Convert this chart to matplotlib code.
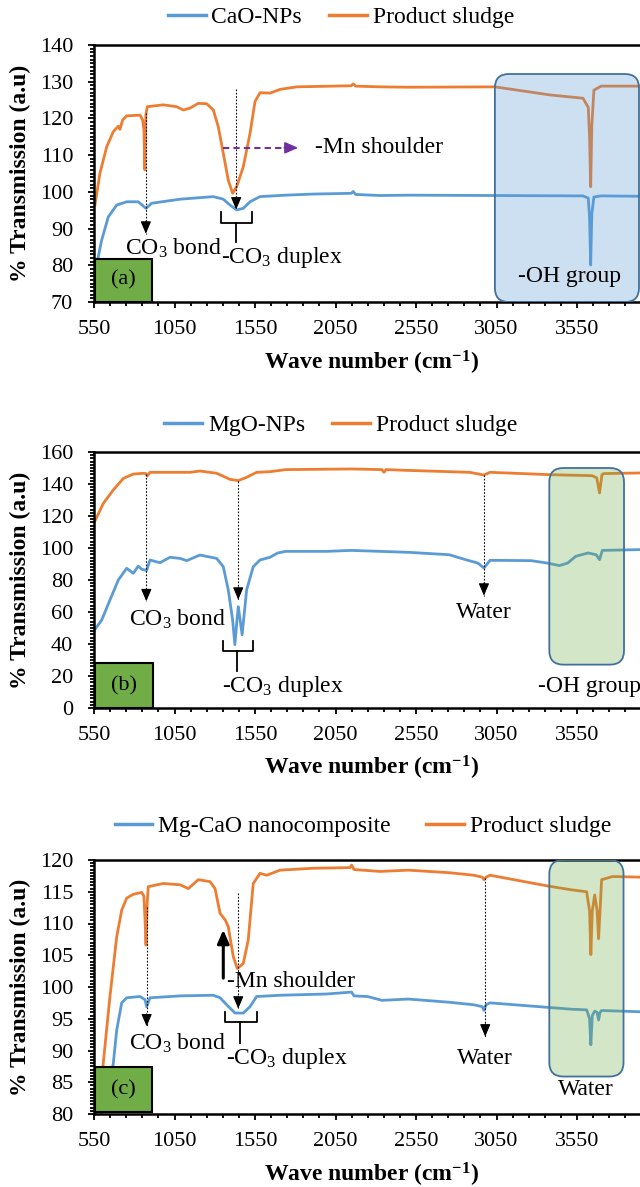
import matplotlib
matplotlib.use("Agg")
import matplotlib.pyplot as plt
from matplotlib.colors import to_rgba
from matplotlib.lines import Line2D
from matplotlib.patches import FancyBboxPatch, Rectangle
from matplotlib.ticker import FixedLocator, MultipleLocator

plt.rcParams["font.family"] = ["Liberation Serif", "DejaVu Serif"]
plt.rcParams["mathtext.fontset"] = "custom"
plt.rcParams["mathtext.rm"] = "Liberation Serif"
plt.rcParams["mathtext.it"] = "Liberation Serif:italic"
plt.rcParams["mathtext.bf"] = "Liberation Serif:bold"

BLUE = "#5B9BD5"
ORANGE = "#ED7D31"

# ---- panel (a): CaO-NPs ----
a_wn_np = [555, 575, 598, 639, 691, 753, 825, 873, 908, 1084, 1291, 1353, 1395, 1436, 1477, 1519, 1581,
           1741, 1912, 2148, 2160, 2175, 2326, 2503, 3040, 3587, 3620, 3628, 3635, 3642, 3655, 3700, 3943, 4000]
a_t_np = [77.5, 82.0, 86.9, 93.2, 96.4, 97.3, 97.3, 95.5, 96.9, 98.0, 98.7, 98.0, 96.4, 95.1, 95.5, 97.3, 98.7,
          99.1, 99.4, 99.6, 100.1, 99.3, 99.0, 99.1, 99.0, 98.9, 98.3, 93.0, 80.1, 94.0, 98.6, 98.9, 98.8, 98.8]
a_wn_sl = [556, 587, 629, 670, 701, 711, 728, 753, 836, 852, 860, 866, 872, 881, 980, 1063, 1105, 1146, 1198,
           1250, 1291, 1322, 1353, 1384, 1411, 1436, 1477, 1519, 1550, 1581, 1643, 1705, 1809, 2148, 2160, 2175,
           2326, 2503, 3040, 3382, 3587, 3620, 3628, 3635, 3642, 3655, 3700, 3943, 4000]
a_t_sl = [96.4, 105.1, 112.3, 116.4, 117.9, 117.0, 119.6, 120.7, 120.9, 119.6, 117.0, 106.0, 121.0, 123.2, 123.7,
          123.2, 122.3, 122.8, 124.1, 124.0, 122.3, 117.7, 110.5, 103.2, 99.6, 101.4, 106.8, 115.9, 124.6, 127.0,
          126.9, 127.9, 128.6, 128.9, 129.4, 128.8, 128.6, 128.5, 128.6, 126.4, 125.5, 123.0, 115.0, 101.4, 118.0,
          127.7, 128.8, 128.8, 128.8]

# ---- panel (b): MgO-NPs ----
b_wn_np = [555, 598, 649, 701, 753, 794, 825, 846, 877, 898, 960, 1022, 1084, 1126, 1208, 1312, 1353, 1384,
           1411, 1425, 1438, 1446, 1455, 1470, 1498, 1539, 1581, 1643, 1691, 1742, 1996, 2148, 2503, 2756, 2858,
           2934, 2972, 3010, 3264, 3365, 3441, 3492, 3542, 3619, 3669, 3690, 3707, 3943, 4000]
b_t_np = [49.0, 55.0, 67.5, 80.0, 87.3, 84.2, 88.7, 86.7, 86.0, 92.5, 90.8, 94.2, 93.5, 92.1, 95.6, 93.5, 88.3,
          73.8, 55.0, 39.6, 55.0, 63.3, 57.0, 45.8, 73.8, 88.3, 92.5, 94.2, 96.9, 97.9, 97.9, 98.5, 97.3, 95.8,
          92.7, 90.6, 87.5, 92.3, 92.1, 90.6, 89.0, 90.6, 94.8, 96.9, 95.8, 92.7, 98.5, 99.0, 99.0]
b_wn_sl = [555, 608, 670, 732, 794, 856, 872, 881, 898, 1146, 1208, 1312, 1395, 1446, 1498, 1560, 1643, 1742,
           2148, 2338, 2351, 2364, 2503, 2883, 2972, 3010, 3390, 3644, 3673, 3690, 3705, 3715, 3943, 4000]
b_t_sl = [116.7, 127.9, 136.3, 143.5, 146.2, 146.7, 146.5, 145.0, 147.3, 147.3, 148.1, 146.7, 142.9, 142.1,
          144.2, 147.3, 147.7, 149.0, 149.4, 149.0, 147.3, 149.0, 148.5, 147.3, 145.6, 147.3, 145.8, 145.2,
          143.8, 134.4, 145.8, 146.5, 146.9, 146.9]

# ---- panel (c): Mg-CaO nanocomposite ----
c_wn_np = [590, 640, 670, 691, 722, 753, 836, 867, 877, 898, 1084, 1291, 1333, 1374, 1426, 1477, 1519, 1560,
           1705, 1996, 2150, 2165, 2249, 2338, 2503, 2756, 2909, 2962, 2972, 2985, 3010, 3264, 3517, 3610, 3628,
           3636, 3645, 3660, 3675, 3684, 3693, 3703, 3943, 4000]
c_t_np = [79.5, 83.5, 88.0, 93.2, 97.5, 98.3, 98.5, 98.0, 96.9, 98.3, 98.6, 98.7, 98.3, 97.2, 95.9, 95.9, 96.9,
          98.5, 98.7, 98.9, 99.2, 98.6, 98.5, 97.9, 98.1, 97.6, 97.2, 96.9, 96.3, 97.2, 97.5, 97.0, 96.5, 96.4,
          95.0, 90.9, 95.5, 96.2, 96.0, 94.8, 96.0, 96.3, 96.1, 96.1]
c_wn_sl = [560, 598, 649, 691, 722, 753, 794, 846, 860, 868, 873, 880, 887, 980, 1084, 1136, 1198, 1270, 1302,
           1333, 1364, 1384, 1415, 1440, 1477, 1508, 1539, 1581, 1623, 1705, 1912, 2140, 2150, 2165, 2326, 2503,
           2756, 2909, 2962, 2972, 2985, 3010, 3370, 3517, 3610, 3628, 3636, 3645, 3660, 3675, 3684, 3693, 3703,
           3771, 3943, 4000]
c_t_sl = [78.0, 85.6, 98.5, 107.9, 112.1, 114.0, 114.6, 114.9, 114.3, 110.0, 106.6, 113.0, 115.8, 116.3, 116.1,
          115.5, 116.9, 116.6, 115.5, 111.6, 110.6, 109.5, 104.8, 102.9, 103.7, 107.4, 116.3, 117.9, 117.6, 118.4,
          118.7, 118.8, 119.2, 118.5, 118.2, 118.4, 118.0, 117.6, 117.3, 116.9, 117.3, 117.6, 115.9, 115.3, 115.0,
          112.0, 105.1, 112.0, 114.5, 112.0, 107.6, 112.0, 116.9, 117.4, 117.3, 117.3]

legend_a = ["CaO-NPs", "Product sludge"]
legend_b = ["MgO-NPs", "Product sludge"]
legend_c = ["Mg-CaO nanocomposite", "Product sludge"]
xticks = list(range(550, 4001, 500))

W, H = 640, 1187
fig = plt.figure(figsize=(W / 100, H / 100), dpi=100)
FS = 17
CO3 = r"CO$_\mathrm{3}$"
XMIN, XMAX = 550, 4000
AX_W = (XMAX - XMIN) / 500 * 80.5


def make_axes(top, bottom, ylim, ymajor):
    ax = fig.add_axes([94 / W, 1 - bottom / H, AX_W / W, (bottom - top) / H])
    ax.set_xlim(XMIN, XMAX)
    ax.set_ylim(*ylim)
    ax.xaxis.set_major_locator(FixedLocator(xticks))
    ax.xaxis.set_minor_locator(FixedLocator(range(550, 4001, 100)))
    ax.yaxis.set_major_locator(MultipleLocator(ymajor))
    ax.yaxis.set_minor_locator(MultipleLocator(ymajor / 10))
    ax.tick_params(which="both", direction="out", width=1.3, labelsize=16, color="black")
    ax.tick_params(which="major", length=4, pad=11)
    ax.tick_params(which="minor", length=3)
    ax.tick_params(axis="x", which="major", pad=9)
    for s in ax.spines.values():
        s.set_linewidth(1.8)
    return ax


def draw_lines(ax, wn1, t1, wn2, t2, labels):
    ax.plot(wn1, t1, color=BLUE, lw=2.0, label=labels[0], zorder=2)
    ax.plot(wn2, t2, color=ORANGE, lw=2.0, label=labels[1], zorder=2)


def legend(ax, cx, cy, colsp):
    h = [Line2D([], [], color=BLUE, lw=2.5), Line2D([], [], color=ORANGE, lw=2.5)]
    labels = [l.get_label() for l in ax.get_lines()[:2]]
    fig.legend(h, labels, loc="center", bbox_to_anchor=(cx / W, 1 - cy / H), ncol=2, frameon=False,
               fontsize=FS, handlelength=1.6, handletextpad=0.25, columnspacing=colsp,
               borderpad=0, borderaxespad=0)


def axis_labels(ycen, xlab_y):
    fig.text(371 / W, 1 - xlab_y / H, r"Wave number (cm$^{\mathbf{-1}}$)", fontsize=FS, fontweight="bold",
             ha="center", va="center")
    fig.text(20 / W, 1 - ycen / H, "% Transmission (a.u)", fontsize=FS, fontweight="bold",
             rotation=90, ha="center", va="center")


def down_arrow(ax, x, y0, y1):
    ax.plot([x, x], [y0, y1], color="black", lw=0.8, ls=(0, (1.5, 1.5)), zorder=4)
    ax.annotate("", xy=(x, y1), xytext=(0, 9), textcoords="offset points",
                arrowprops=dict(arrowstyle="-|>,head_length=0.75,head_width=0.32", color="black",
                                lw=0.8, shrinkA=0, shrinkB=0), zorder=4)


def brace(ax, x1, x2, xc, ytop, ymid, ybot):
    ax.plot([x1, x1, x2, x2], [ytop, ymid, ymid, ytop], color="black", lw=1.3, zorder=4)
    ax.plot([xc, xc], [ymid, ybot], color="black", lw=1.3, zorder=4)


def round_box(ax, x0, x1, y0, y1, color, r_px=14):
    bb = ax.get_position()
    wpx, hpx = bb.width * W, bb.height * H
    xmin, xmax = ax.get_xlim()
    ymin, ymax = ax.get_ylim()
    ax0 = (x0 - xmin) / (xmax - xmin)
    aw = (x1 - x0) / (xmax - xmin)
    ay0 = (y0 - ymin) / (ymax - ymin)
    ah = (y1 - y0) / (ymax - ymin)
    p = FancyBboxPatch((ax0, ay0), aw, ah, boxstyle=f"round,pad=0,rounding_size={r_px / wpx}",
                       mutation_aspect=wpx / hpx, transform=ax.transAxes,
                       fc=to_rgba(color, 0.3), ec="#41719C", lw=1.3, zorder=3)
    ax.add_patch(p)


def tag(ax, x0, x1, y0, y1, text):
    ax.add_patch(Rectangle((x0, y0), x1 - x0, y1 - y0, fc="#70AD47", ec="black", lw=1.5, zorder=5))
    ax.text((x0 + x1) / 2, (y0 + y1) / 2, text, fontsize=16, ha="center", va="center", zorder=6)


def note(ax, x, y, s, ha="center"):
    ax.text(x, y, s, fontsize=FS, ha=ha, va="center", zorder=6)


# ---------- (a) ----------
ax = make_axes(45, 302, (70, 140), 10)
draw_lines(ax, a_wn_np, a_t_np, a_wn_sl, a_t_sl, legend_a)
legend(ax, 341, 17, 1.15)
axis_labels(173, 363)
round_box(ax, 3040, 3935, 70, 132.1, "#5B9BD5")
down_arrow(ax, 872, 121.4, 88.6)
down_arrow(ax, 1433, 127.9, 95.2)
brace(ax, 1336, 1534, 1433, 94.5, 91.4, 86.4)
ax.plot([1349, 1800], [112, 112], color="#7030A0", lw=1.5, ls=(0, (3, 2)), zorder=4)
ax.annotate("", xy=(1818, 112), xytext=(-10, 0), textcoords="offset points",
            arrowprops=dict(arrowstyle="-|>,head_length=0.8,head_width=0.35", color="#7030A0",
                            lw=1.2, shrinkA=0, shrinkB=0), zorder=4)
note(ax, 1045, 84.5, CO3 + " bond")
note(ax, 1717, 82.1, "-" + CO3 + " duplex")
note(ax, 2318, 112, "-Mn shoulder")
note(ax, 3504, 77.0, "-OH group")
tag(ax, 555, 910, 70, 81.8, "(a)")

# ---------- (b) ----------
ax = make_axes(452, 708, (0, 160), 20)
draw_lines(ax, b_wn_np, b_t_np, b_wn_sl, b_t_sl, legend_b)
legend(ax, 341, 425, 1.15)
axis_labels(580, 768)
round_box(ax, 3378, 3842, 27.1, 150.0, "#70AD47")
down_arrow(ax, 875, 146.0, 66.7)
down_arrow(ax, 1446, 142.1, 67.7)
down_arrow(ax, 2972, 145.6, 70.2)
brace(ax, 1349, 1539, 1438, 41.7, 35.4, 22.9)
note(ax, 1070, 55.2, CO3 + " bond")
note(ax, 1722, 13.6, "-" + CO3 + " duplex")
note(ax, 2972, 59.4, "Water")
note(ax, 3309, 13.6, "-OH group", ha="left")
tag(ax, 555, 918, 0, 28.1, "(b)")

# ---------- (c) ----------
ax = make_axes(860, 1114, (80, 120), 5)
draw_lines(ax, c_wn_np, c_t_np, c_wn_sl, c_t_sl, legend_c)
legend(ax, 363, 826, 1.5)
axis_labels(987, 1175)
round_box(ax, 3378, 3839, 85.9, 120.0, "#70AD47")
down_arrow(ax, 877, 112.6, 93.8)
down_arrow(ax, 1446, 114.8, 96.6)
down_arrow(ax, 2980, 117.1, 92.2)
ax.annotate("", xy=(1353, 109.0), xytext=(1353, 101.4),
            arrowprops=dict(arrowstyle="-|>,head_length=0.8,head_width=0.35", color="black",
                            lw=2.2, shrinkA=0, shrinkB=0), zorder=4)
brace(ax, 1364, 1560, 1457, 96.0, 94.5, 91.2)
note(ax, 1069, 91.2, CO3 + " bond")
note(ax, 1747, 88.8, "-" + CO3 + " duplex")
note(ax, 1772, 100.8, "-Mn shoulder")
note(ax, 2980, 88.8, "Water")
note(ax, 3606, 83.8, "Water")
tag(ax, 555, 908, 80.3, 87.4, "(c)")

fig.savefig("out.png", dpi=100)
